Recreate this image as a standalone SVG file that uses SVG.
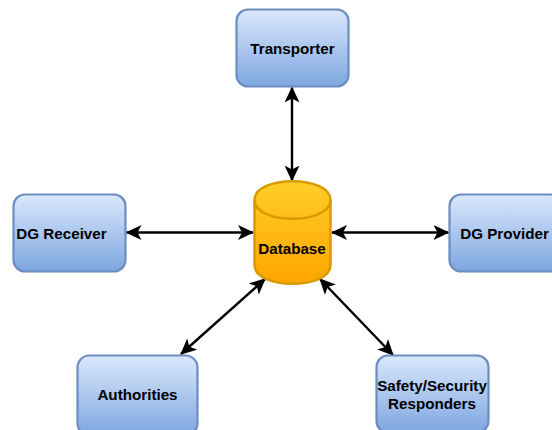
<svg xmlns="http://www.w3.org/2000/svg" width="552" height="430" viewBox="0 0 552 430">
<style>
.box{fill:url(#blue);stroke:#6c8ebf;stroke-width:2.200}
.db{fill:url(#gold);stroke:#d79b00;stroke-width:2.500}
.t{font-family:"Liberation Sans",Arial,sans-serif;font-size:15.200px;font-weight:bold;fill:#000;text-anchor:middle}
.c{fill:none;stroke:#000;stroke-width:2.400;marker-start:url(#ah);marker-end:url(#ah)}
</style>
<defs>
<linearGradient id="blue" x1="0" y1="0" x2="0" y2="1"><stop offset="0" stop-color="#dae8fc"/><stop offset="1" stop-color="#7ea6e0"/></linearGradient>
<linearGradient id="gold" gradientUnits="userSpaceOnUse" x1="0" y1="181" x2="0" y2="284"><stop offset="0" stop-color="#ffcd28"/><stop offset="1" stop-color="#ffa500"/></linearGradient>
<marker id="ah" viewBox="0 0 16 15" refX="15" refY="7.500" markerWidth="16" markerHeight="15" markerUnits="userSpaceOnUse" orient="auto-start-reverse"><path d="M0 0L16 7.500L0 15L4 7.500Z" fill="#000"/></marker>
</defs>
<g id="connectors">
<path class="c" d="M292 87.500V180.500"/>
<path class="c" d="M126.500 232.500H253"/>
<path class="c" d="M332 232.500H448.500"/>
<path class="c" d="M181 354L265 279"/>
<path class="c" d="M393 355L320 279"/>
</g>
<g id="transporter"><rect class="box" x="236.500" y="9.500" width="112" height="77" rx="11.500"/><text class="t" x="292.500" y="54">Transporter</text></g>
<g id="dg-receiver"><rect class="box" x="13.500" y="194.500" width="112" height="77" rx="11.500"/><text class="t" x="61.500" y="239">DG Receiver</text></g>
<g id="dg-provider"><rect class="box" x="449.500" y="194.500" width="112" height="77" rx="11.500"/><text class="t" x="504.500" y="239">DG Provider</text></g>
<g id="authorities"><rect class="box" x="77.500" y="355.500" width="120" height="80" rx="12"/><text class="t" x="137.500" y="400">Authorities</text></g>
<g id="safety"><rect class="box" x="376.500" y="355.500" width="112" height="77" rx="11.500"/><text class="t" x="432" y="391">Safety/Security</text><text class="t" x="432" y="409">Responders</text></g>
<g id="database"><path class="db" d="M254.500 200C254.500 175 330.500 175 330.500 200V265C330.500 290 254.500 290 254.500 265Z"/><path d="M254.500 200C254.500 225 330.500 225 330.500 200" fill="none" stroke="#d79b00" stroke-width="2.500"/><text class="t" x="292" y="254">Database</text></g>
</svg>
